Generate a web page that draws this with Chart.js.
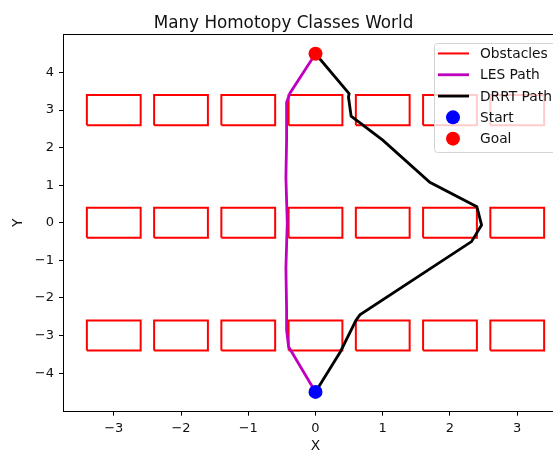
<!DOCTYPE html>
<html>
<head>
<meta charset="utf-8">
<title>Many Homotopy Classes World</title>
<script src="https://cdn.jsdelivr.net/npm/chart.js@4.4.1/dist/chart.umd.min.js"></script>
<style>
  html, body { margin: 0; padding: 0; background: #fff; overflow: hidden; }
  #wrap { width: 553px; height: 452px; overflow: hidden; }
  canvas { display: block; }
</style>
</head>
<body>
<div id="wrap"><canvas id="chart" width="600" height="452"></canvas></div>
<script>
// obstacle grid (centres and half sizes, in world units)
const obstacleCentersX = [-3, -2, -1, 0, 1, 2, 3];
const obstacleCentersY = [3, 0, -3];
const obstacleHalfWidth = 0.4;
const obstacleHalfHeight = 0.4;

const startPoint = { x: 0, y: -4.5 };
const goalPoint = { x: 0, y: 4.5 };

const lesPathX = [0, -0.38, -0.43, -0.43, -0.44, -0.42, -0.44, -0.43, -0.43, -0.40, 0];
const lesPathY = [4.5, 3.45, 3.2, 2.2, 1.2, 0, -1.2, -2.3, -2.85, -3.3, -4.5];

const drrtPathX = [0, 0.50, 0.49, 0.53, 1.0, 1.70, 2.40, 2.47, 2.32, 0.66, 0.60, 0.37, 0];
const drrtPathY = [4.5, 3.44, 3.35, 2.84, 2.2, 1.08, 0.43, -0.06, -0.5, -2.45, -2.6, -3.43, -4.5];

const xTicks = [-3, -2, -1, 0, 1, 2, 3];
const yTicks = [-4, -3, -2, -1, 0, 1, 2, 3, 4];

const FONT = "'DejaVu Sans', sans-serif";
const TEXT = "#111";

// every rectangle as a closed outline, separated by gaps
const obstaclePoints = [];
obstacleCentersY.forEach(cy => {
  obstacleCentersX.forEach(cx => {
    obstaclePoints.push(
      { x: cx - obstacleHalfWidth, y: cy - obstacleHalfHeight },
      { x: cx + obstacleHalfWidth, y: cy - obstacleHalfHeight },
      { x: cx + obstacleHalfWidth, y: cy + obstacleHalfHeight },
      { x: cx - obstacleHalfWidth, y: cy + obstacleHalfHeight },
      { x: cx - obstacleHalfWidth, y: cy - obstacleHalfHeight },
      { x: null, y: null }
    );
  });
});

const toPoints = (xs, ys) => xs.map((x, i) => ({ x: x, y: ys[i] }));
const fmt = v => (v < 0 ? "\u2212" + Math.abs(v) : String(v));

// axes frame on all four sides, like matplotlib spines
const framePlugin = {
  id: "frame",
  afterDatasetsDraw(chart) {
    const { ctx, chartArea: a } = chart;
    ctx.save();
    ctx.strokeStyle = "#000";
    ctx.lineWidth = 1;
    ctx.strokeRect(Math.round(a.left) - 0.5, Math.round(a.top) - 0.5,
      Math.round(a.right - a.left) + 1, Math.round(a.bottom - a.top) + 1);
    ctx.restore();
  }
};

// legend box in the upper right corner of the axes
const legendPlugin = {
  id: "boxLegend",
  afterDraw(chart) {
    const { ctx, chartArea: a } = chart;
    const left = a.right - 133, top = a.top + 8;
    const w = 126, h = 109, r = 3;
    ctx.save();
    ctx.beginPath();
    ctx.roundRect(left + 0.5, top + 0.5, w, h, r);
    ctx.fillStyle = "rgba(255,255,255,0.8)";
    ctx.fill();
    ctx.strokeStyle = "#d3d3d3";
    ctx.lineWidth = 1;
    ctx.stroke();

    ctx.font = "13.8px " + FONT;
    ctx.textBaseline = "middle";
    ctx.fillStyle = TEXT;
    chart.data.datasets.forEach((ds, i) => {
      const y = top + 10.5 + i * 21.3;
      if (ds.showLine) {
        ctx.beginPath();
        ctx.moveTo(left + 4, y);
        ctx.lineTo(left + 35, y);
        ctx.strokeStyle = ds.borderColor;
        ctx.lineWidth = ds.borderWidth;
        ctx.stroke();
      } else {
        ctx.beginPath();
        ctx.arc(left + 19, y, ds.pointRadius, 0, Math.PI * 2);
        ctx.fillStyle = ds.backgroundColor;
        ctx.fill();
      }
      ctx.fillStyle = TEXT;
      ctx.fillText(ds.label, left + 46, y + 1);
    });
    ctx.restore();
  }
};

new Chart(document.getElementById("chart"), {
  type: "scatter",
  data: {
    datasets: [
      {
        label: "Obstacles",
        data: obstaclePoints,
        showLine: true,
        spanGaps: false,
        borderColor: "#ff0000",
        backgroundColor: "#ff0000",
        borderWidth: 2,
        pointRadius: 0,
        order: 4
      },
      {
        label: "LES Path",
        data: toPoints(lesPathX, lesPathY),
        showLine: true,
        borderColor: "#bf00bf",
        backgroundColor: "#bf00bf",
        borderWidth: 2.8,
        pointRadius: 0,
        order: 3
      },
      {
        label: "DRRT Path",
        data: toPoints(drrtPathX, drrtPathY),
        showLine: true,
        borderColor: "#000000",
        backgroundColor: "#000000",
        borderWidth: 2.8,
        pointRadius: 0,
        order: 2
      },
      {
        label: "Start",
        data: [startPoint],
        showLine: false,
        backgroundColor: "#0000ff",
        borderColor: "#0000ff",
        borderWidth: 0,
        pointRadius: 7,
        order: 1
      },
      {
        label: "Goal",
        data: [goalPoint],
        showLine: false,
        backgroundColor: "#ff0000",
        borderColor: "#ff0000",
        borderWidth: 0,
        pointRadius: 7,
        order: 0
      }
    ]
  },
  options: {
    responsive: false,
    animation: false,
    events: [],
    layout: { padding: { left: 0, right: 33, top: 0, bottom: 0 } },
    plugins: {
      legend: { display: false },
      tooltip: { enabled: false },
      title: {
        display: true,
        text: "Many Homotopy Classes World",
        color: TEXT,
        font: { family: FONT, size: 16.8, weight: "normal" },
        padding: { top: 13.5, bottom: 1.3 }
      }
    },
    scales: {
      x: {
        type: "linear",
        min: -3.74,
        max: 3.74,
        afterBuildTicks: s => { s.ticks = xTicks.map(v => ({ value: v })); },
        afterFit: s => { s.height = 41.3; },
        border: { display: false },
        grid: { drawOnChartArea: false, drawTicks: true, tickLength: 5, color: "#000" },
        ticks: {
          autoSkip: false, maxRotation: 0, padding: 5,
          color: TEXT, font: { family: FONT, size: 13 },
          callback: fmt
        },
        title: {
          display: true, text: "X", color: TEXT,
          font: { family: FONT, size: 13.8 },
          padding: { top: 0, bottom: -2.5 }
        }
      },
      y: {
        type: "linear",
        min: -5.0,
        max: 5.0,
        afterBuildTicks: s => { s.ticks = yTicks.map(v => ({ value: v })); },
        afterFit: s => { s.width = 64; },
        border: { display: false },
        grid: { drawOnChartArea: false, drawTicks: true, tickLength: 5, color: "#000" },
        ticks: {
          autoSkip: false, padding: 5,
          color: TEXT, font: { family: FONT, size: 13 },
          callback: fmt
        },
        title: {
          display: true, text: "Y", color: TEXT,
          font: { family: FONT, size: 13.8 },
          padding: { top: 10, bottom: 0 }
        }
      }
    }
  },
  plugins: [framePlugin, legendPlugin]
});
</script>
</body>
</html>
